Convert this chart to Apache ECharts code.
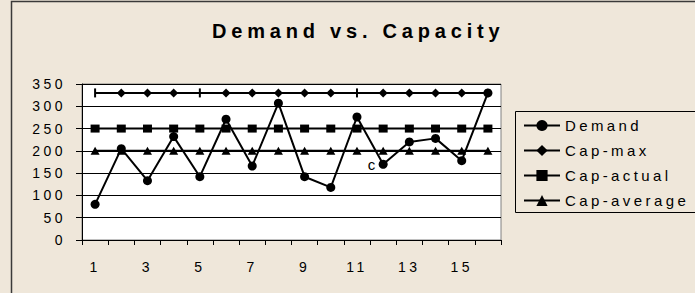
<!DOCTYPE html>
<html>
<head>
<meta charset="utf-8">
<script src="https://cdn.jsdelivr.net/npm/echarts@6/dist/echarts.min.js"></script>
<style>
  html, body { margin: 0; padding: 0; background: #EFE7DA; }
  #chart { width: 695px; height: 293px; }
  /* the old chart spreads its letters out */
  #chart text[style*="14px"] { letter-spacing: 3.5px; }
  #chart text[style*="15px"] { letter-spacing: 3.4px; }
  #chart text[style*="bold"] { letter-spacing: 4.8px; }
</style>
</head>
<body>
<div id="chart"></div>
<script>
const categories = ['1', '2', '3', '4', '5', '6', '7', '8', '9', '10', '11', '12', '13', '14', '15', '16'];
const demand = [80, 205, 133, 232, 142, 271, 166, 307, 142, 118, 276, 170, 220, 228, 178, 330];
const capMax = [330, 330, 330, 330, 330, 330, 330, 330, 330, 330, 330, 330, 330, 330, 330, 330];
const capActual = [250, 250, 250, 250, 250, 250, 250, 250, 250, 250, 250, 250, 250, 250, 250, 250];
const capAverage = [200, 200, 200, 200, 200, 200, 200, 200, 200, 200, 200, 200, 200, 200, 200, 200];
// points of Cap-max drawn as a short bar instead of a diamond
const capMaxBars = [0, 4, 10];
// point of Demand that carries the stray "c" label
const cLabelAt = 11;

const font = "'Liberation Sans', Arial, sans-serif";

const chart = echarts.init(document.getElementById('chart'), null, { renderer: 'svg' });

chart.setOption({
  backgroundColor: '#EFE7DA',
  animation: false,
  title: {
    text: 'Demand vs. Capacity',
    left: 207,
    top: 16,
    textStyle: { fontFamily: font, fontSize: 20, fontWeight: 'bold', color: '#000' }
  },
  graphic: [
    {
      type: 'rect',
      shape: { x: 11.5, y: 1.5, width: 700, height: 300 },
      style: { fill: 'none', stroke: '#3a3a3a', lineWidth: 1.5 },
      silent: true
    },
    {
      type: 'rect',
      shape: { x: 515.5, y: 111.5, width: 200, height: 101 },
      style: { fill: 'none', stroke: '#000', lineWidth: 1 },
      silent: true
    }
  ],
  legend: {
    orient: 'vertical',
    left: 518,
    top: 113,
    itemWidth: 36,
    itemHeight: 14,
    itemGap: 10,
    textStyle: { fontFamily: font, fontSize: 15, color: '#000' },
    data: ['Demand', 'Cap-max', 'Cap-actual', 'Cap-average']
  },
  grid: {
    left: 82,
    right: 194,
    top: 84,
    bottom: 53,
    show: true,
    backgroundColor: '#fff',
    borderColor: '#808080',
    borderWidth: 1
  },
  xAxis: {
    type: 'category',
    data: categories,
    boundaryGap: true,
    axisLine: { lineStyle: { color: '#000', width: 1 } },
    axisTick: { show: true, interval: 0, length: 5, lineStyle: { color: '#000' } },
    axisLabel: { interval: 1, margin: 20, fontFamily: font, fontSize: 14, color: '#000' },
    splitLine: { show: false }
  },
  yAxis: {
    type: 'value',
    min: 0,
    max: 350,
    interval: 50,
    axisLine: { show: true, lineStyle: { color: '#000', width: 1 } },
    axisTick: { show: true, length: 6, lineStyle: { color: '#000' } },
    axisLabel: { margin: 16, padding: [4, 0, 0, 0], fontFamily: font, fontSize: 14, color: '#000' },
    splitLine: { show: true, lineStyle: { color: '#000', width: 1 } }
  },
  series: [
    {
      name: 'Demand',
      type: 'line',
      z: 4,
      symbol: 'circle',
      symbolSize: 9,
      color: '#000',
      lineStyle: { color: '#000', width: 2 },
      itemStyle: { color: '#000' },
      data: demand.map((v, i) => i === cLabelAt
        ? { value: v, label: { show: true, position: 'left', distance: 0, formatter: 'c', fontFamily: font, fontSize: 15, color: '#000' } }
        : v)
    },
    {
      name: 'Cap-max',
      type: 'line',
      z: 3,
      symbol: 'diamond',
      symbolSize: 9,
      color: '#000',
      lineStyle: { color: '#000', width: 2 },
      itemStyle: { color: '#000' },
      data: capMax.map((v, i) => capMaxBars.includes(i)
        ? { value: v, symbol: 'rect', symbolSize: [2, 9] }
        : v)
    },
    {
      name: 'Cap-actual',
      type: 'line',
      z: 3,
      symbol: 'rect',
      symbolSize: [9, 8],
      color: '#000',
      lineStyle: { color: '#000', width: 2 },
      itemStyle: { color: '#000' },
      data: capActual
    },
    {
      name: 'Cap-average',
      type: 'line',
      z: 3,
      symbol: 'triangle',
      symbolSize: [9, 8],
      color: '#000',
      lineStyle: { color: '#000', width: 2 },
      itemStyle: { color: '#000' },
      data: capAverage
    }
  ]
});
</script>
</body>
</html>
